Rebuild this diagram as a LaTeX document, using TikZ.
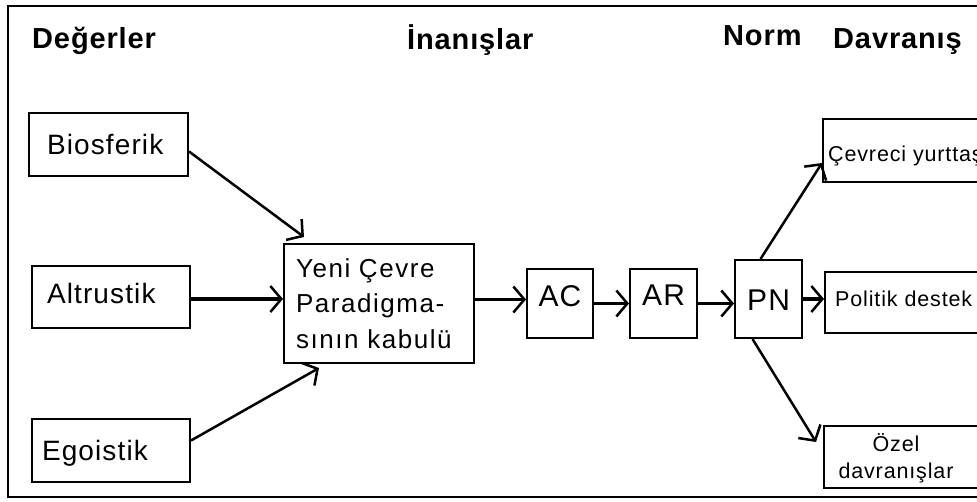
\documentclass[tikz,border=0pt]{standalone}
\usepackage{fontspec}
\setmainfont{Liberation Sans}
\newfontfamily\headfont{Liberation Sans}[LetterSpace=3]
\newfontfamily\bodyfont{Liberation Sans}[LetterSpace=4]
\newfontfamily\yenifont{Liberation Sans}[LetterSpace=6]
\usetikzlibrary{arrows.meta}
\begin{document}
\begin{tikzpicture}[x=1pt,y=-1pt,
  head/.style={anchor=base west, inner sep=0pt, font=\headfont\bfseries\fontsize{29}{29}\selectfont},
  box/.style={draw, line width=2pt, inner sep=0pt, rectangle},
  lbl/.style={font=\bodyfont\fontsize{28}{28}\selectfont, align=left, text depth=0pt},
  mid/.style={font=\bodyfont\fontsize{30}{30}\selectfont, text depth=0pt},
  small/.style={font=\bodyfont\fontsize{21.5}{27}\selectfont, inner sep=0pt},
  harr/.style={line width=3.5pt, -{Straight Barb[length=11pt,width=26pt,line width=2.5pt]}},
  darr/.style={line width=2.5pt, -{Straight Barb[length=11pt,width=26pt,line width=2.5pt]}}]
\useasboundingbox (0,0) rectangle (977,502);
\clip (0,0) rectangle (977,502);
\fill[white] (0,0) rectangle (977,502);
% frame
\draw[line width=2pt] (995,6) -- (8,6) -- (8,497) -- (995,497);
% headers
\node[head] (hdeg) at (32,49) {Değerler};
\node[head] (hina) at (407,50) {İnanışlar};
\node[head] (hnorm) at (723,46) {Norm};
\node[head] (hdav) at (833,49) {Davranış};
% left boxes
\node[box, lbl, minimum width=159, minimum height=63, text width=123, text height=20pt] (bio) at (108.5,144.5) {Biosferik};
\node[box, lbl, minimum width=158, minimum height=62, text width=128, text height=13pt] (alt) at (111,297) {Altrustik};
\node[box, lbl, minimum width=158, minimum height=63, text width=138, text height=20pt] (ego) at (111,450.5) {Egoistik};
% central box
\node[box, font=\yenifont\fontsize{26}{35.5}\selectfont, align=left, minimum width=190, minimum height=119, text width=166] (yeni) at (379,303.5) {Yeni Çevre\\Paradigma-\\sının kabulü};
% AC AR PN
\node[box, mid, minimum width=66, minimum height=69, text height=5.5pt] (ac) at (560,303.5) {AC};
\node[box, mid, minimum width=67, minimum height=69, text height=3.5pt] (ar) at (663.5,303.5) {AR};
\node[box, mid, minimum width=67, minimum height=78, text height=23pt] (pn) at (768.5,299) {PN};
% right boxes
\node[box, minimum width=177, minimum height=63] (cev) at (911.5,150.5) {};
\node[box, minimum width=175, minimum height=61] (pol) at (912.5,302.5) {};
\node[box, minimum width=176, minimum height=62] (oz) at (912,457) {};
\node[small, anchor=base west] (cevt) at (828,162) {Çevreci yurttaş};
\node[small, anchor=base west] (polt) at (835,307) {Politik destek};
\node[small, align=center] (ozt) at (896,458) {Özel\\davranışlar};
% connectors
\draw[darr] ([yshift=-7pt]bio.east) -- ([xshift=21pt,yshift=6pt]yeni.north west);
\coordinate (altR) at ([yshift=-2pt]alt.east);
\draw[harr] (altR) -- (altR -| yeni.west);
\draw[darr] ([yshift=10pt]ego.east) -- ([xshift=36pt,yshift=-4pt]yeni.south west);
\coordinate (yeniR) at ([yshift=4pt]yeni.east);
\draw[harr] (yeniR) -- (yeniR -| ac.west);
\draw[harr] (ac.east) -- (ar.west);
\draw[harr] (ar.east) -- (ar.east -| pn.west);
\draw[harr] (pn.east) -- (pn.east -| pol.west);
\draw[darr] ([xshift=-8pt]pn.north) -- ([yshift=20pt]cev.south west);
\draw[darr] ([xshift=-16pt]pn.south) -- ([xshift=-7pt,yshift=-17pt]oz.north west);
\end{tikzpicture}
\end{document}
